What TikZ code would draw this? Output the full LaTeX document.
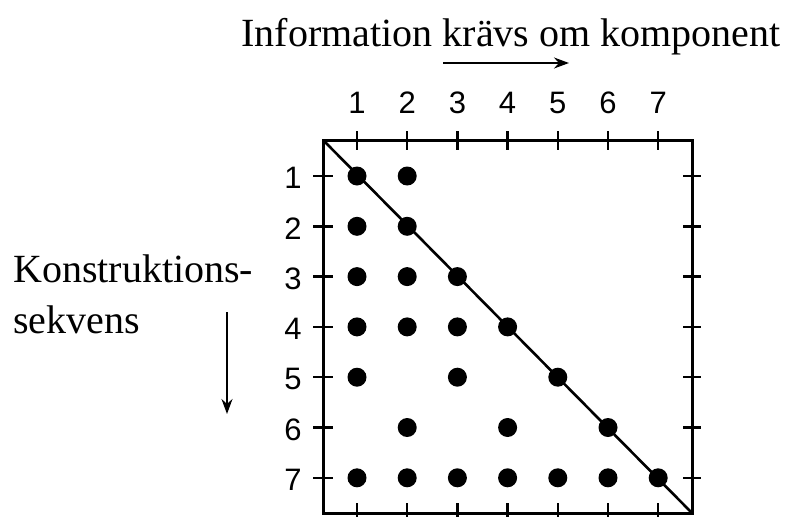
\documentclass[tikz,border=0pt]{standalone}
\usepackage{fontspec}
\setmainfont{Liberation Serif}
\newfontfamily\numfont{Liberation Sans}
\usetikzlibrary{arrows.meta}
\begin{document}
\begin{tikzpicture}[x=1pt,y=-1pt,
  dot/.style={circle,fill=black,inner sep=0pt,minimum size=19pt},
  num/.style={font=\numfont\fontsize{31}{33}\selectfont,inner sep=0pt},
  lbl/.style={font=\fontsize{40}{44}\selectfont,inner sep=0pt},
  frame/.style={line width=3pt},
  tick/.style={line width=2.4pt},
  arr/.style={line width=1.5pt,-{Stealth[length=15pt,width=11pt]}}]
\useasboundingbox (0,0) rectangle (793,517);
\coordinate (TL) at (323,140);
\coordinate (BR) at (692,513);
\draw[frame] (TL) rectangle (BR);
\draw[line width=2.6pt] (TL) -- (BR);
\foreach \i in {1,...,7}{
  \pgfmathsetmacro{\cx}{357+50.2*(\i-1)}
  \pgfmathsetmacro{\ry}{176+50.3*(\i-1)}
  \draw[tick] (\cx,131) -- (\cx,150);
  \draw[tick] (\cx,503) -- (\cx,517);
  \draw[tick] (313,\ry) -- (333,\ry);
  \draw[tick] (683,\ry) -- (701,\ry);
  \node[num] (top\i) at (\cx,103) {\i};
  \node[num] (left\i) at (293,\ry+2) {\i};
}
\foreach \r/\c in {1/1,1/2,2/1,2/2,3/1,3/2,3/3,4/1,4/2,4/3,4/4,5/1,5/3,5/5,6/2,6/4,6/6,7/1,7/2,7/3,7/4,7/5,7/6,7/7}{
  \node[dot] (d\r\c) at ({357+50.2*(\c-1)},{176+50.3*(\r-1)}) {};
}
\node[lbl,anchor=base] (title) at (511,46) {Information krävs om komponent};
\node[lbl,anchor=base west] (k1) at (13,282) {Konstruktions-};
\node[lbl,anchor=base west] (k2) at (13,333) {sekvens};
\coordinate (ha) at (443,63);
\coordinate (hb) at (569,63);
\draw[arr] (ha) -- (hb);
\coordinate (va) at (227,312);
\coordinate (vb) at (227,414);
\draw[arr] (va) -- (vb);
\end{tikzpicture}
\end{document}
